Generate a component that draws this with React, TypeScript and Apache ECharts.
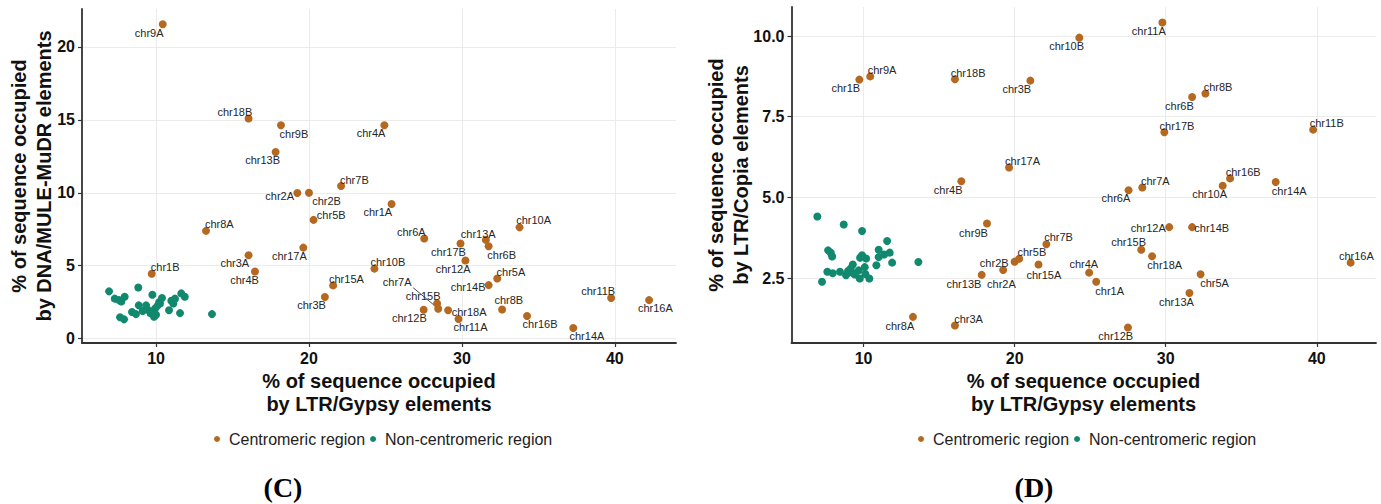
import { useEffect, useRef } from 'react';
import * as echarts from 'echarts';

// Centromeric regions, one entry per chromosome arm
const chromosomes = [
  'chr1A', 'chr1B', 'chr2A', 'chr2B', 'chr3A', 'chr3B', 'chr4A', 'chr4B', 'chr5A', 'chr5B',
  'chr6A', 'chr6B', 'chr7A', 'chr7B', 'chr8A', 'chr8B', 'chr9A', 'chr9B', 'chr10A', 'chr10B',
  'chr11A', 'chr11B', 'chr12A', 'chr12B', 'chr13A', 'chr13B', 'chr14A', 'chr14B', 'chr15A', 'chr15B',
  'chr16A', 'chr16B', 'chr17A', 'chr17B', 'chr18A', 'chr18B',
];
// % of sequence occupied by LTR/Gypsy
const gypsyCen = [
  25.4, 9.72, 19.24, 20.0, 16.05, 21.04, 24.93, 16.47, 32.31, 20.3,
  27.54, 31.75, 28.45, 22.1, 13.27, 32.63, 10.44, 18.17, 33.77, 24.28,
  29.78, 39.76, 30.23, 27.5, 31.57, 17.82, 37.28, 31.75, 21.58, 28.38,
  42.24, 34.26, 19.63, 29.91, 29.1, 16.05,
];
// % of sequence occupied by DNA/MULE-MuDR
const mudrCen = [
  9.23, 4.45, 9.98, 10.0, 5.72, 2.85, 14.63, 4.6, 4.12, 8.14,
  6.86, 6.33, 2.05, 10.46, 7.39, 2.0, 21.55, 14.63, 7.63, 4.8,
  1.34, 2.78, 5.36, 1.98, 6.77, 12.79, 0.73, 3.67, 3.65, 2.41,
  2.64, 1.55, 6.24, 6.52, 1.94, 15.09,
];
// % of sequence occupied by LTR/Copia
const copiaCen = [
  2.39, 8.65, 2.75, 3.01, 1.03, 8.62, 2.67, 5.5, 2.62, 3.1,
  5.22, 8.11, 5.31, 3.55, 1.3, 8.22, 8.75, 4.19, 5.36, 9.95,
  10.42, 7.1, 4.08, 0.97, 2.04, 2.6, 5.48, 4.08, 2.92, 3.38,
  2.98, 5.59, 5.93, 7.02, 3.18, 8.66,
];

// Non-centromeric regions, panel C (Gypsy vs MULE-MuDR)
const gypsyNonC = [
  6.93, 7.3, 7.58, 7.65, 7.73, 7.91, 7.95, 8.43, 8.69, 8.84, 8.87, 9.13, 9.35, 9.48, 9.65, 9.76,
  9.87, 9.93, 10.0, 10.08, 10.2, 10.26, 10.39, 10.85, 11.0, 11.13, 11.24, 11.57, 11.65, 11.88, 13.66,
];
const mudrNon = [
  3.24, 2.74, 2.64, 1.46, 2.55, 1.32, 2.87, 1.82, 1.68, 3.51, 2.28, 1.89, 2.28, 1.96, 1.73, 3.01,
  1.5, 2.05, 1.64, 2.23, 2.5, 2.41, 2.78, 1.94, 2.6, 2.41, 2.74, 1.75, 3.1, 2.87, 1.68,
];
// Non-centromeric regions, panel D (Gypsy vs Copia)
const gypsyNonD = [
  6.94, 7.25, 7.6, 7.65, 7.83, 7.92, 7.96, 8.44, 8.69, 8.84, 8.97, 9.15, 9.24, 9.29, 9.42, 9.68,
  9.75, 9.77, 9.9, 9.9, 10.08, 10.12, 10.17, 10.38, 10.85, 11.0, 11.0, 11.36, 11.56, 11.73, 11.89, 13.63,
];
const copiaNon = [
  4.41, 2.39, 2.7, 3.36, 3.29, 3.17, 2.65, 2.7, 4.16, 2.59, 2.72, 2.8, 2.67, 2.92, 2.61, 2.74,
  2.49, 3.13, 3.96, 3.21, 2.84, 2.63, 3.11, 2.49, 2.9, 3.38, 3.15, 3.23, 3.65, 3.29, 2.98, 3.0,
];

const xTicks = [10, 20, 30, 40];
const yTicksC = [0, 5, 10, 15, 20];
const yTicksD = [2.5, 5, 7.5, 10];

const seriesNames = ['Centromeric region', 'Non-centromeric region'];

// repel-style label shifts (px) from each point
const labelShiftC: Record<string, [number, number]> = {
  chr9A: [-13.6, 8.4], chr18B: [-13.7, -7], chr9B: [13, 8.4], chr4A: [-13.3, 8], chr13B: [-13, 8],
  chr7B: [13.3, -6.3], chr2A: [-17.7, 2.7], chr2B: [17.6, 8], chr1A: [-13.7, 8], chr5B: [17.7, -4.6],
  chr8A: [13.3, -7], chr6A: [-13, -6.7], chr17A: [-14, 8.3], chr3A: [-13.7, 8], chr4B: [-10.4, 8],
  chr1B: [13.4, -7], chr10B: [13.4, -6.3], chr15A: [13.3, -6.7], chr3B: [-13.3, 8.3], chr7A: [-41, -27],
  chr15B: [-14, -7], chr12B: [-14.3, 8.4], chr10A: [14, -7], chr13A: [-7.7, -6.3], chr6B: [13, 8.3],
  chr17B: [-12, 8], chr12A: [-12.3, 8.3], chr5A: [13.7, -7], chr14B: [-20.6, 2.3], chr11B: [-13, -7],
  chr16A: [6.3, 8.3], chr18A: [21, 2], chr8B: [6.7, -9.7], chr11A: [12, 8.3], chr16B: [13, 8],
  chr14A: [13.7, 8.3],
};
const labelShiftD: Record<string, [number, number]> = {
  chr11A: [-13.6, 8.7], chr10B: [-12.7, 8.7], chr1B: [-13.5, 8.7], chr9A: [11.8, -6], chr18B: [13.1, -6.7],
  chr3B: [-13.5, 8.7], chr6B: [-12.7, 8.6], chr8B: [12.6, -6.3], chr17B: [12.6, -6.3], chr11B: [13.6, -6.6],
  chr17A: [13.5, -6.3], chr4B: [-13.1, 9], chr6A: [-12.6, 7.7], chr7A: [13, -6.7], chr10A: [-13.1, 8.4],
  chr16B: [13.1, -6.7], chr14A: [13.5, 8.6], chr9B: [-13.5, 9], chr12A: [-20.9, 0.4], chr14B: [19.6, 0.7],
  chr7B: [12.2, -7], chr15B: [-12.6, -7.3], chr18A: [12.6, 8.7], chr5B: [12.7, -7], chr2B: [-20.4, 1.3],
  chr15A: [5.3, 10], chr16A: [5.7, -7], chr2A: [-1.7, 13.7], chr4A: [-5.3, -8.4], chr13B: [-17.8, 8.7],
  chr5A: [13.9, 9], chr1A: [13.5, 9], chr13A: [-13, 8.7], chr8A: [-13.1, 8.7], chr3A: [13.6, -6.4],
  chr12B: [-12.2, 8.3],
};

const CEN_COLOR = '#B5681F';
const NON_COLOR = '#10896F';
const LABEL_COLOR = '#262626';
const SANS = '"Liberation Sans", Arial, sans-serif';
const AXIS_COLOR = '#333333';
const GRID_COLOR = '#ebebeb';

function xAxisFor(gridIndex: number, min: number, max: number) {
  return {
    type: 'value', gridIndex, min, max,
    axisLine: { show: true, onZero: false, lineStyle: { color: AXIS_COLOR, width: 1.8 } },
    axisTick: { show: true, length: 4, customValues: xTicks, lineStyle: { color: AXIS_COLOR, width: 1.2 } },
    axisLabel: {
      customValues: xTicks, margin: 7, fontSize: 16, fontWeight: 'bold', color: '#111', fontFamily: SANS,
    },
    splitLine: { show: true, lineStyle: { color: GRID_COLOR, width: 1 } },
  };
}

function yAxisFor(gridIndex: number, min: number, max: number, ticks: number[], digits: number) {
  return {
    type: 'value', gridIndex, min, max,
    axisLine: { show: true, onZero: false, lineStyle: { color: AXIS_COLOR, width: 1.8 } },
    axisTick: { show: true, length: 4, customValues: ticks, lineStyle: { color: AXIS_COLOR, width: 1.2 } },
    axisLabel: {
      customValues: ticks, margin: 7, fontSize: 16, fontWeight: 'bold', color: '#111', fontFamily: SANS,
      formatter: (v: number) => v.toFixed(digits),
    },
    splitLine: { show: true, lineStyle: { color: GRID_COLOR, width: 1 } },
  };
}

function cenSeries(axisIndex: number, ys: number[], shifts: Record<string, [number, number]>) {
  const labelStyle = { fontSize: 11, color: LABEL_COLOR, fontFamily: SANS };
  return {
    name: seriesNames[0], type: 'scatter', xAxisIndex: axisIndex, yAxisIndex: axisIndex,
    symbolSize: 8, itemStyle: { color: CEN_COLOR, opacity: 1 },
    label: { show: true, position: 'inside', formatter: '{b}', ...labelStyle },
    emphasis: { disabled: true },
    data: chromosomes.map((name, i) => ({
      name, value: [gypsyCen[i], ys[i]],
      label: { show: true, position: 'inside', offset: shifts[name], ...labelStyle },
    })),
    z: 3,
  };
}

function nonSeries(axisIndex: number, xs: number[], ys: number[]) {
  return {
    name: seriesNames[1], type: 'scatter', xAxisIndex: axisIndex, yAxisIndex: axisIndex,
    symbolSize: 8, itemStyle: { color: NON_COLOR, opacity: 1 },
    emphasis: { disabled: true },
    data: xs.map((x, i) => [x, ys[i]]),
    z: 2,
  };
}

function titleText(x: number, y: number, text: string, rotated: boolean) {
  return {
    type: 'text', x, y, rotation: rotated ? Math.PI / 2 : 0, silent: true,
    style: {
      text, fill: '#111', font: `bold 20px ${SANS}`,
      textAlign: 'center', textVerticalAlign: 'middle', align: 'center', verticalAlign: 'middle',
    },
  };
}

function legendAt(left: number) {
  return {
    left, top: 426, orient: 'horizontal', icon: 'circle', itemWidth: 14, itemHeight: 6,
    itemGap: 5, symbolKeepAspect: true, selectedMode: false, data: seriesNames,
    textStyle: { fontSize: 16, color: '#222', fontFamily: SANS },
  };
}

export default function App() {
  const ref = useRef<HTMLDivElement>(null);

  useEffect(() => {
    if (!ref.current) return;
    const chart = echarts.init(ref.current, null, { renderer: 'svg' });
    const option: any = {
      animation: false,
      backgroundColor: '#ffffff',
      grid: [
        { left: 82, top: 9, width: 594, height: 334 },
        { left: 791.5, top: 7, width: 584.5, height: 336 },
      ],
      xAxis: [xAxisFor(0, 5.16, 44.0), xAxisFor(1, 5.23, 43.92)],
      yAxis: [yAxisFor(0, -0.3, 22.6, yTicksC, 0), yAxisFor(1, 0.49, 10.9, yTicksD, 1)],
      legend: [legendAt(209), legendAt(913)],
      series: [
        cenSeries(0, mudrCen, labelShiftC),
        nonSeries(0, gypsyNonC, mudrNon),
        cenSeries(1, copiaCen, labelShiftD),
        nonSeries(1, gypsyNonD, copiaNon),
      ],
      graphic: [
        titleText(379, 381, '% of sequence occupied', false),
        titleText(379, 404, 'by LTR/Gypsy elements', false),
        titleText(19, 176, '% of sequence occupied', true),
        titleText(44, 176, 'by DNA/MULE-MuDR elements', true),
        titleText(1083.5, 381, '% of sequence occupied', false),
        titleText(1083.5, 404, 'by LTR/Gypsy elements', false),
        titleText(716, 175, '% of sequence occupied', true),
        titleText(741, 175, 'by LTR/Copia elements', true),
        {
          type: 'text', x: 283, y: 487, silent: true,
          style: {
            text: '(C)', fill: '#000', font: 'bold 28px "Liberation Serif", "Times New Roman", serif',
            textAlign: 'center', textVerticalAlign: 'middle', align: 'center', verticalAlign: 'middle',
          },
        },
        {
          type: 'text', x: 1034, y: 487, silent: true,
          style: {
            text: '(D)', fill: '#000', font: 'bold 28px "Liberation Serif", "Times New Roman", serif',
            textAlign: 'center', textVerticalAlign: 'middle', align: 'center', verticalAlign: 'middle',
          },
        },
      ],
    };
    chart.setOption(option);

    // leader segment from the displaced chr7A label to its point in panel C
    const i7 = chromosomes.indexOf('chr7A');
    const p = chart.convertToPixel({ gridIndex: 0 }, [gypsyCen[i7], mudrCen[i7]]) as number[];
    if (p) {
      chart.setOption({
        graphic: [
          ...option.graphic,
          {
            type: 'line', silent: true,
            shape: { x1: p[0] - 25, y1: p[1] - 21, x2: p[0] - 4, y2: p[1] - 3.5 },
            style: { stroke: '#333', lineWidth: 0.9 },
          },
        ],
      });
    }

    return () => chart.dispose();
  }, []);

  return (
    <div
      ref={ref}
      style={{ position: 'fixed', left: 0, top: 0, width: 1381, height: 504, background: '#fff' }}
    />
  );
}
